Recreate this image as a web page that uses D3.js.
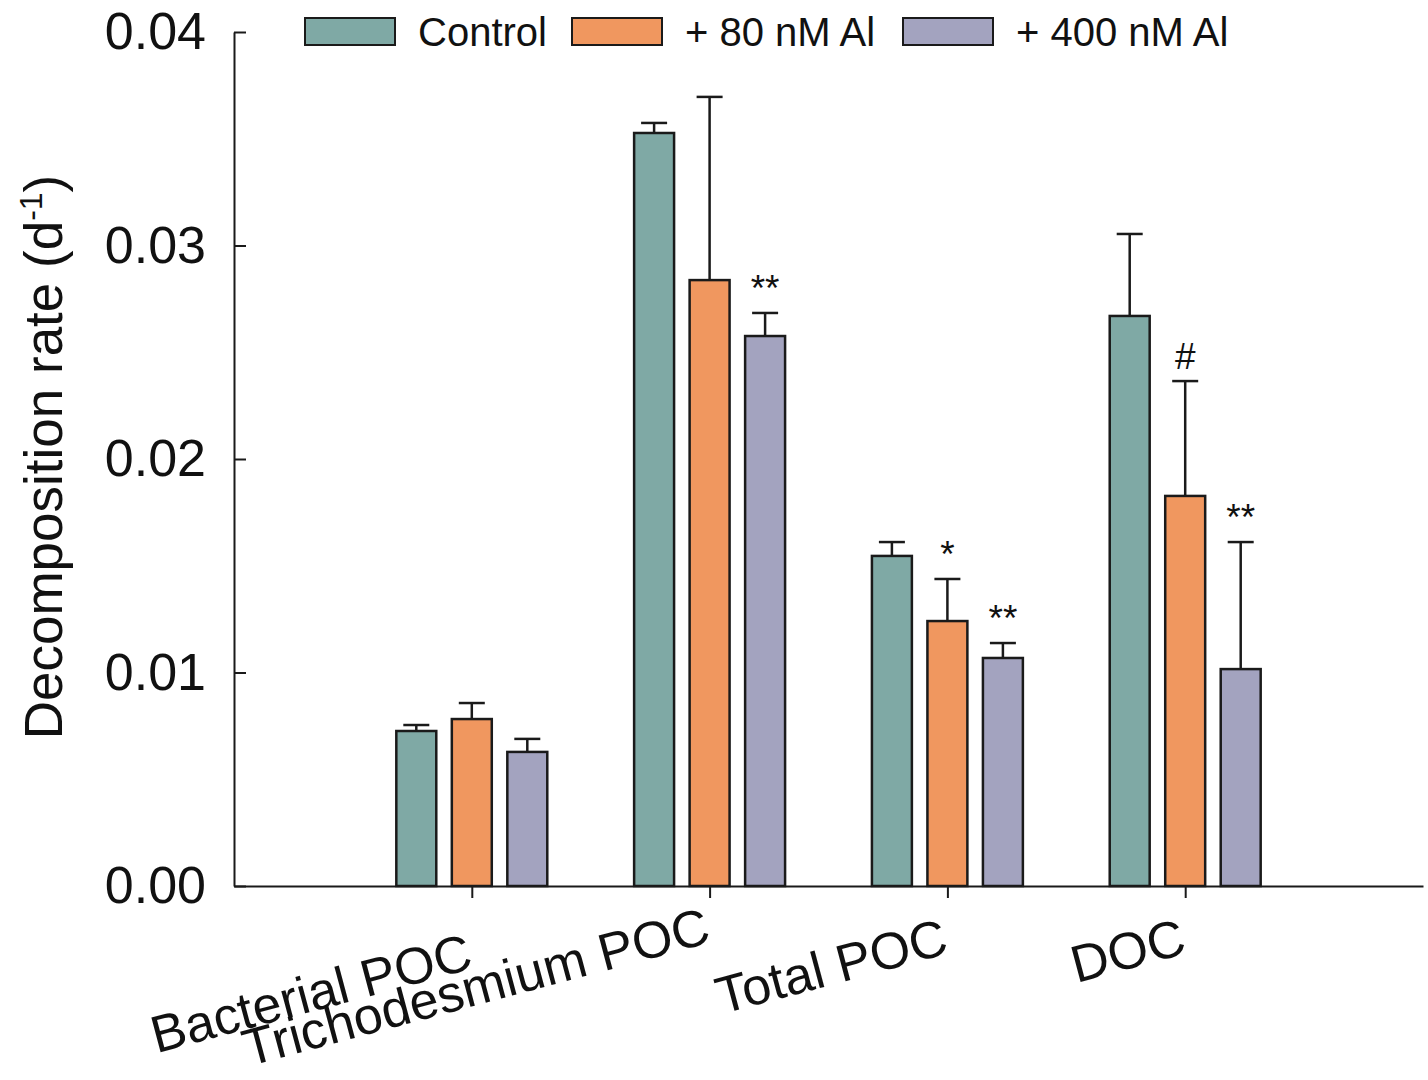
<!DOCTYPE html>
<html>
<head>
<meta charset="utf-8">
<script src="https://cdn.jsdelivr.net/npm/d3@7"></script>
<style>
  body { margin: 0; background: #fff; }
  svg text { font-family: "Liberation Sans", Arial, sans-serif; fill: #111; }
</style>
</head>
<body>
<div id="chart"></div>
<script>
// decomposition rates (d-1)
const categories = ['Bacterial POC', 'Trichodesmium POC', 'Total POC', 'DOC'];
const series = ['Control', '+ 80 nM Al', '+ 400 nM Al'];
const controlValues = [0.00726, 0.03527, 0.01546, 0.0267];
const controlErrors = [0.00028, 0.00047, 0.00065, 0.00384];
const al80Values = [0.00782, 0.02838, 0.01241, 0.01827];
const al80Errors = [0.00075, 0.00858, 0.00197, 0.00538];
const al400Values = [0.00628, 0.02576, 0.01068, 0.01016];
const al400Errors = [0.00061, 0.00108, 0.0007, 0.00595];
// significance marks per category, per series
const al80Marks = ['', '', '*', '#'];
const al400Marks = ['', '**', '**', '**'];
const yTicks = [0, 0.01, 0.02, 0.03, 0.04];

const colors = ['#7fa9a5', '#f0975f', '#a3a3bf'];

(function () {
  const W = 1428, H = 1080;
  const left = 234, right = 1423, top = 32, bottom = 886;

  const svg = d3.select('#chart').append('svg')
    .attr('width', W).attr('height', H);

  const valueSets = [controlValues, al80Values, al400Values];
  const errorSets = [controlErrors, al80Errors, al400Errors];
  const markSets = [[], al80Marks, al400Marks];

  // group positions: category i sits at slot i+1 of 5 along the axis
  const x = d3.scaleLinear().domain([0, categories.length + 1]).range([left, right]);
  const xInner = d3.scaleBand().domain(series)
    .range([-83.25, 83.25]).paddingInner(0.28).paddingOuter(0.14);
  const y = d3.scaleLinear().domain([0, 0.04]).range([bottom, top]);

  let rows = [];
  categories.forEach((c, i) => {
    series.forEach((s, j) => {
      rows.push({cat: c, ci: i, s: s, sj: j, v: valueSets[j][i], e: errorSets[j][i], mark: markSets[j][i] || ''});
    });
  });

  // error bars first so bars' outline sits on top
  const err = svg.append('g').attr('stroke', '#1a1a1a').attr('stroke-width', 2.5);
  rows.forEach(d => {
    let cx = x(d.ci + 1) + xInner(d.s) + xInner.bandwidth() / 2;
    err.append('line').attr('x1', cx).attr('x2', cx)
      .attr('y1', y(d.v)).attr('y2', y(d.v + d.e));
    err.append('line').attr('x1', cx - 13).attr('x2', cx + 13)
      .attr('y1', y(d.v + d.e)).attr('y2', y(d.v + d.e));
  });

  svg.append('g').selectAll('rect')
    .data(rows)
    .enter()
    .append('rect')
    .attr('x', d => x(d.ci + 1) + xInner(d.s))
    .attr('width', xInner.bandwidth())
    .attr('y', d => y(d.v))
    .attr('height', d => y(0) - y(d.v))
    .attr('fill', d => colors[d.sj])
    .attr('stroke', '#1a1a1a')
    .attr('stroke-width', 2.5);

  svg.append('g').selectAll('text')
    .data(rows.filter(d => d.mark !== ''))
    .enter()
    .append('text')
    .attr('x', d => x(d.ci + 1) + xInner(d.s) + xInner.bandwidth() / 2)
    .attr('y', d => y(d.v + d.e) - 12)
    .attr('text-anchor', 'middle')
    .style('font-size', '37px')
    .text(d => d.mark);

  // y axis, ticks pointing in
  const yAxis = svg.append('g')
    .attr('transform', 'translate(' + left + ',0)')
    .call(d3.axisLeft(y).tickValues(yTicks).tickFormat(d3.format('.2f'))
      .tickSizeInner(-12).tickSizeOuter(0).tickPadding(28));
  yAxis.select('.domain').attr('stroke', '#1a1a1a').attr('stroke-width', 2);
  yAxis.selectAll('.tick line').attr('stroke', '#1a1a1a').attr('stroke-width', 2);
  yAxis.selectAll('.tick text').style('font-size', '52px')
    .style('font-family', '"Liberation Sans", Arial, sans-serif').attr('fill', '#111');

  // x axis
  const xAxis = svg.append('g')
    .attr('transform', 'translate(0,' + bottom + ')')
    .call(d3.axisBottom(x).tickValues(categories.map((c, i) => i + 1))
      .tickFormat('').tickSizeInner(12).tickSizeOuter(0));
  xAxis.select('.domain').attr('stroke', '#1a1a1a').attr('stroke-width', 2);
  xAxis.selectAll('.tick line').attr('stroke', '#1a1a1a').attr('stroke-width', 2);

  const labelDrop = [15, -11, 0, 0];
  svg.append('g').selectAll('text')
    .data(categories)
    .enter()
    .append('text')
    .attr('transform', (d, i) => 'translate(' + (x(i + 1) + 3) + ',' + (953 + labelDrop[i]) + ') rotate(-15)')
    .attr('text-anchor', 'end')
    .style('font-size', '52px')
    .text(d => d);

  // y label
  const yl = svg.append('text')
    .attr('transform', 'translate(62,457) rotate(-90)')
    .attr('text-anchor', 'middle')
    .style('font-size', '53px');
  yl.append('tspan').text('Decomposition rate (d');
  yl.append('tspan').attr('dy', -20).style('font-size', '32px').text('-1');
  yl.append('tspan').attr('dy', 20).text(')');

  // legend
  const legX = [305, 572, 903];
  const lg = svg.append('g');
  series.forEach((s, j) => {
    lg.append('rect').attr('x', legX[j]).attr('y', 18).attr('width', 90).attr('height', 27)
      .attr('fill', colors[j]).attr('stroke', '#1a1a1a').attr('stroke-width', 2);
    lg.append('text').attr('x', legX[j] + 113).attr('y', 46)
      .style('font-size', '40px').text(s);
  });
})();
</script>
</body>
</html>
